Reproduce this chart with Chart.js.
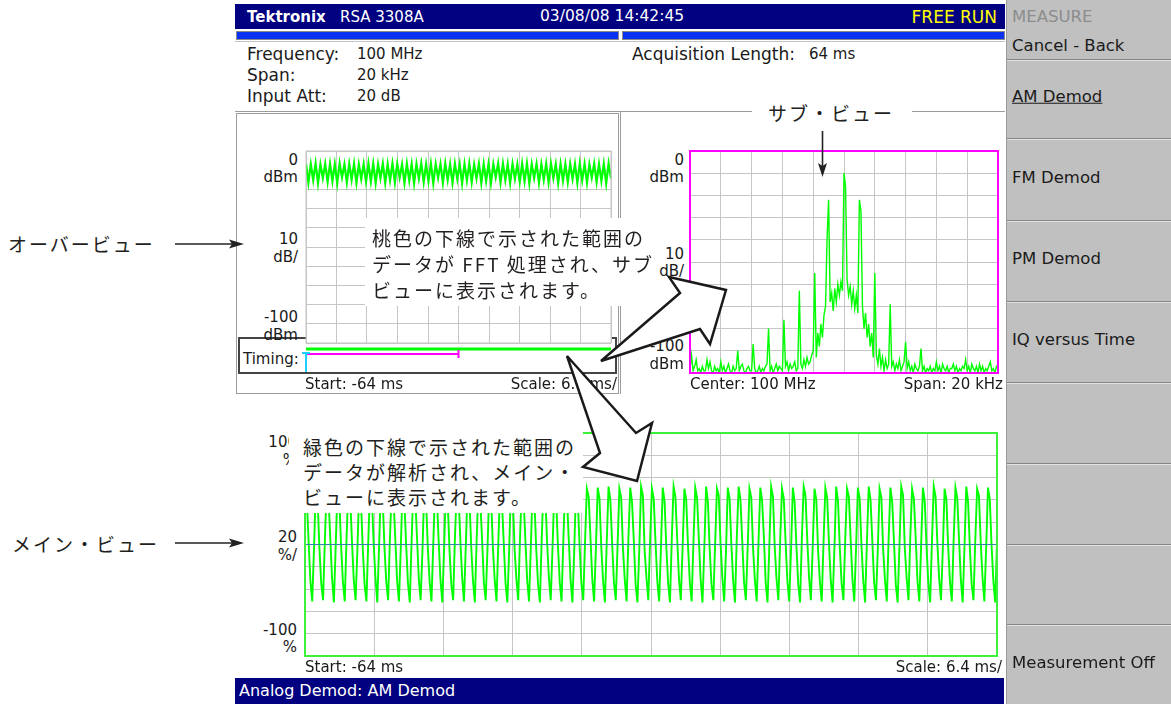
<!DOCTYPE html>
<html lang="ja">
<head>
<meta charset="utf-8">
<title>RSA 3308A - AM Demod</title>
<script src="https://cdn.jsdelivr.net/npm/chart.js@4.4.1/dist/chart.umd.min.js"></script>
<style>
  html, body { margin: 0; padding: 0; }
  body {
    position: relative; width: 1171px; height: 704px; overflow: hidden; background: #fff;
    font-family: "DejaVu Sans", Verdana, sans-serif; font-size: 15px; color: #1a1a1a;
  }
  .t { position: absolute; white-space: nowrap; line-height: 1; z-index: 3; }
  .jp { font-family: "Noto Sans CJK JP", sans-serif; font-size: 19px; letter-spacing: 2px; color: #231f20; }
  .rule { position: absolute; z-index: 1; box-sizing: border-box; }
  .box { position: absolute; background: #fff; z-index: 6; }
  .box .jp { position: absolute; white-space: nowrap; }
  canvas { position: absolute; z-index: 2; }
  #arrows { position: absolute; left: 0; top: 0; z-index: 8; }
</style>
</head>
<body>

<!-- title bar + progress bars -->
<div class="rule" style="left:235px;top:4px;width:770px;height:25px;background:#000080"></div>
<div class="rule" style="left:236px;top:31px;width:383px;height:9px;background:#0a32f0;border:1px solid #8a8a8a"></div>
<div class="rule" style="left:622px;top:31px;width:383px;height:9px;background:#0a32f0;border:1px solid #8a8a8a"></div>
<div class="rule" style="left:235px;top:41px;width:770px;height:1px;background:#c4c4c4"></div>

<!-- view frames -->
<div class="rule" style="left:235px;top:111px;width:517px;height:1px;background:#9c9c9c"></div>
<div class="rule" style="left:912px;top:111px;width:93px;height:1px;background:#9c9c9c"></div>
<div class="rule" style="left:236px;top:113px;width:383px;height:281px;border:1px solid #9c9c9c"></div>
<div class="rule" style="left:620px;top:111px;width:1px;height:283px;background:#9c9c9c"></div>
<div class="rule" style="left:238px;top:337px;width:379px;height:37px;border:2px solid #444"></div>

<!-- status bar -->
<div class="rule" style="left:235px;top:678px;width:769px;height:26px;background:#000080"></div>

<!-- side menu -->
<div class="rule" style="left:1006px;top:0;width:165px;height:704px;background:#c0c0c0;border-left:1px solid #9a9a9a"></div>
<div id="menuLines"></div>

<canvas id="overview" width="317" height="231" style="left:300px;top:146px"></canvas>
<canvas id="subview" width="316" height="230" style="left:686px;top:147px"></canvas>
<canvas id="mainview" width="700" height="231" style="left:301px;top:429px"></canvas>

<!-- callout boxes -->
<div class="box" style="left:365px;top:218px;width:285px;height:88px">
  <div class="jp" style="left:7px;top:7px;line-height:26px">桃色の下線で示された範囲の<br>データが FFT 処理され、サブ<br>ビューに表示されます。</div>
</div>
<div class="box" style="left:289px;top:429px;width:294px;height:84px">
  <div class="jp" style="left:14px;top:5px;line-height:25px">緑色の下線で示された範囲の<br>データが解析され、メイン・<br>ビューに表示されます。</div>
</div>

<svg id="arrows" width="1171" height="704">
  <g fill="#fff" stroke="#1a1a1a" stroke-width="2.5" stroke-linejoin="miter">
    <polygon points="601,361 680,293 669,277 726,290 710,344 700,329"/>
    <polygon points="567,356 600,453 583,467 637,481 652,423 636,433"/>
  </g>
  <g stroke="#222" stroke-width="1.6" fill="#222">
    <line x1="175" y1="244" x2="233" y2="244"/>
    <polygon points="244,244 229,239.5 232,244 229,248.5" stroke="none"/>
    <line x1="175" y1="543" x2="233" y2="543"/>
    <polygon points="244,543 229,538.5 232,543 229,547.5" stroke="none"/>
    <line x1="822.5" y1="131" x2="822.5" y2="167"/>
    <polygon points="822.5,177 818,163 822.5,166 827,163" stroke="none"/>
  </g>
</svg>

<script>
// Overview: AM envelope power in dBm, one peak and one trough per modulation cycle (64 cycles)
const overviewPeaks = [
  -6.6, -6.9, -6.5, -7.0, -6.7, -6.6, -6.8, -6.5,
  -6.9, -6.7, -6.6, -7.0, -6.8, -6.5, -6.7, -6.9,
  -6.6, -6.8, -6.5, -6.7, -7.0, -6.6, -6.8, -6.7,
  -6.5, -6.9, -6.6, -6.8, -6.7, -6.5, -6.9, -6.6,
  -6.8, -6.7, -6.5, -7.0, -6.6, -6.8, -6.7, -6.9,
  -6.5, -6.6, -6.8, -6.7, -7.0, -6.6, -6.5, -6.8,
  -6.7, -6.9, -6.6, -6.5, -6.8, -6.7, -6.9, -6.6,
  -6.8, -6.5, -6.7, -7.0, -6.6, -6.8, -6.7, -6.5,
];
const overviewTroughs = [
  -16.5, -15.2, -16.8, -14.1, -16.2, -15.7, -16.9, -13.8,
  -16.4, -15.0, -16.7, -14.6, -16.1, -15.9, -16.8, -14.2,
  -16.6, -15.3, -16.3, -13.9, -16.7, -15.5, -16.9, -14.4,
  -16.2, -15.8, -16.8, -14.0, -16.5, -15.1, -16.6, -14.7,
  -16.9, -15.4, -16.3, -14.3, -16.6, -15.6, -16.8, -13.7,
  -16.4, -15.2, -16.7, -14.5, -16.1, -15.8, -16.9, -14.1,
  -16.6, -15.0, -16.4, -14.2, -16.8, -15.5, -16.3, -14.6,
  -16.7, -15.3, -16.5, -13.9, -16.2, -15.7, -16.9, -14.4,
];

// Sub view: FFT of the magenta range, dBm, -10 .. +10 kHz in 0.1 kHz bins
const spectrumDbm = [
  -98, -92, -99, -97, -94, -99, -98, -100, -97, -99,
  -99, -94, -98, -95, -99, -100, -97, -99, -98, -100,
  -95, -99, -97, -100, -98, -96, -99, -100, -97, -99,
  -98, -90, -99, -97, -96, -99, -100, -98, -97, -99,
  -99, -87, -98, -100, -99, -97, -100, -98, -99, -97,
  -96, -80, -99, -97, -100, -98, -96, -99, -97, -98,
  -99, -76, -97, -95, -99, -96, -98, -97, -95, -99,
  -98, -63, -96, -98, -94, -97, -93, -96, -95, -92,
  -90, -55, -93, -82, -88, -78, -84, -74, -70, -40,
  -22, -68, -64, -72, -62, -68, -60, -65, -59, -63,
  -10, -16, -58, -65, -61, -69, -63, -71, -65, -73,
  -22, -27, -70, -80, -73, -84, -78, -88, -82, -93,
  -55, -92, -96, -89, -97, -93, -99, -94, -98, -96,
  -69, -97, -95, -99, -96, -98, -94, -99, -97, -95,
  -86, -98, -95, -99, -97, -100, -96, -98, -99, -97,
  -89, -99, -97, -100, -98, -99, -97, -100, -98, -99,
  -95, -99, -97, -100, -96, -98, -99, -97, -100, -98,
  -98, -96, -99, -97, -100, -98, -99, -97, -98, -94,
  -99, -97, -100, -96, -98, -99, -97, -100, -96, -99,
  -97, -100, -98, -99, -97, -95, -99, -98, -100, -97,
  -98,
];
const spanKhz = [-10, 10];

// Main view: AM depth in %, 6 samples per modulation cycle, 64 cycles
const amPercent = [
  51,41,2,-33,-51,-3, 52,39,-4,-35,-50,4, 50,43,5,-31,-52,-1, 51,40,-2,-34,-51,6,
  52,42,3,-32,-50,-5, 50,38,-5,-36,-51,2, 51,44,1,-30,-52,-2, 52,40,-3,-34,-50,5,
  50,41,4,-33,-51,-4, 51,39,-1,-35,-52,3, 52,43,6,-31,-50,-6, 50,40,-4,-34,-51,1,
  51,42,2,-32,-52,-3, 52,38,-6,-36,-50,7, 50,44,3,-30,-51,-1, 51,41,-2,-33,-52,4,
  52,40,5,-34,-50,-4, 50,42,-3,-32,-51,2, 51,39,1,-35,-52,-5, 52,43,-4,-31,-50,6,
  50,41,3,-33,-51,-2, 51,38,-5,-36,-52,4, 52,44,2,-30,-50,-3, 50,40,-1,-34,-51,5,
  51,42,4,-32,-52,-6, 52,39,-2,-35,-50,3, 50,43,6,-31,-51,-4, 51,41,-3,-33,-52,2,
  52,40,1,-34,-50,-1, 50,42,-4,-32,-51,6, 51,38,3,-36,-52,-5, 52,44,-6,-30,-50,4,
  50,41,2,-33,-51,-3, 51,39,-3,-35,-52,5, 52,43,5,-31,-50,-2, 50,40,-2,-34,-51,3,
  51,42,4,-32,-52,-4, 52,38,-5,-36,-50,1, 50,44,1,-30,-51,-6, 51,41,-1,-33,-52,7,
  52,40,3,-34,-50,-3, 50,42,-4,-32,-51,2, 51,39,6,-35,-52,-1, 52,43,-3,-31,-50,4,
  50,41,2,-33,-51,-5, 51,38,-2,-36,-52,6, 52,44,4,-30,-50,-2, 50,40,-6,-34,-51,3,
  51,42,1,-32,-52,-4, 52,39,-3,-35,-50,5, 50,43,5,-31,-51,-3, 51,41,-1,-33,-52,2,
  52,40,3,-34,-50,-6, 50,42,-5,-32,-51,4, 51,38,2,-36,-52,-2, 52,44,-4,-30,-50,6,
  50,41,6,-33,-51,-1, 51,39,-2,-35,-52,3, 52,43,1,-31,-50,-5, 50,40,-3,-34,-51,4,
  51,42,4,-32,-52,-2, 52,38,-4,-36,-50,5, 50,44,2,-30,-51,-3, 51,41,-1,-33,-52,3,
];

const timeMs = [-64, 0];        // acquisition length 64 ms, 6.4 ms/div
const dbmRange = [-100, 0];      // 10 dB/div
const pctRange = [-100, 100];    // 20 %/div
const timingMain = [-64, 0];     // green: analysed range
const timingSub = [-64, -32];    // magenta: FFT range
const triggerAt = -64;

const GREEN = "#00ff00";
const GRID = "#c6c6c6";
const $ = (id) => document.getElementById(id);

// --- text helper ---
function put(text, x, y, o = {}) {
  const el = document.createElement("div");
  el.className = "t" + (o.jp ? " jp" : "");
  el.textContent = text;
  el.style.left = x + "px";
  el.style.top = y + "px";
  const tx = o.align === "right" ? "-100%" : "0";
  el.style.transform = `translate(${tx}, -50%)`;
  if (o.size) el.style.fontSize = o.size + "px";
  if (o.color) el.style.color = o.color;
  if (o.weight) el.style.fontWeight = o.weight;
  if (o.underline) el.style.textDecoration = "underline";
  document.body.appendChild(el);
  return el;
}

// header
put("Tektronix", 247, 17, { size: 15, weight: "bold", color: "#fff" });
put("RSA 3308A", 340, 17, { size: 15, color: "#fff" });
put("03/08/08 14:42:45", 540, 17, { size: 15.5, color: "#fff" });
put("FREE RUN", 997, 17, { size: 17, color: "#ffff00", align: "right" });

put("Frequency:", 247, 54, { size: 17 });
put("100 MHz", 357, 54);
put("Span:", 247, 75, { size: 17 });
put("20 kHz", 357, 75);
put("Input Att:", 247, 96, { size: 17 });
put("20 dB", 357, 96);
put("Acquisition Length:", 632, 54, { size: 17 });
put("64 ms", 809, 54);

// overview labels
put("0", 298, 160, { align: "right" });
put("dBm", 298, 177, { align: "right" });
put("10", 298, 239, { align: "right" });
put("dB/", 298, 257, { align: "right" });
put("-100", 298, 317, { align: "right" });
put("dBm", 298, 335, { align: "right" });
put("Timing:", 243, 359);
put("Start: -64 ms", 305, 384);
put("Scale: 6.4 ms/", 617, 384, { align: "right" });

// sub view labels
put("0", 684, 160, { align: "right" });
put("dBm", 684, 177, { align: "right" });
put("10", 684, 254, { align: "right" });
put("dB/", 684, 271, { align: "right" });
put("-100", 684, 346, { align: "right" });
put("dBm", 684, 364, { align: "right" });
put("Center: 100 MHz", 690, 384);
put("Span: 20 kHz", 1003, 384, { align: "right" });

// main view labels
put("100", 297, 442, { align: "right" });
put("%", 297, 460, { align: "right" });
put("20", 297, 537, { align: "right" });
put("%/", 297, 555, { align: "right" });
put("-100", 297, 630, { align: "right" });
put("%", 297, 647, { align: "right" });
put("Start: -64 ms", 305, 667);
put("Scale: 6.4 ms/", 1002, 667, { align: "right" });

put("Analog Demod: AM Demod", 239, 691, { size: 16, color: "#fff" });

// annotations
put("オーバービュー", 8, 243, { jp: true });
put("メイン・ビュー", 12, 543, { jp: true });
put("サブ・ビュー", 768, 112, { jp: true });

// side menu
put("MEASURE", 1012, 17, { size: 16.5, color: "#8c8c8c" });
put("Cancel - Back", 1012, 46, { size: 16.5 });
put("AM Demod", 1012, 97, { size: 16.5, underline: true });
put("FM Demod", 1012, 178, { size: 16.5 });
put("PM Demod", 1012, 259, { size: 16.5 });
put("IQ versus Time", 1012, 340, { size: 16.5 });
put("Measurement Off", 1012, 663, { size: 16.5 });
[59, 138, 220, 301, 382, 463, 544, 624].forEach((y) => {
  const d = document.createElement("div");
  d.className = "rule";
  d.style.cssText = `left:1007px;top:${y}px;width:164px;height:2px;background:#858585;border-bottom:1px solid #e2e2e2;z-index:2`;
  $("menuLines").appendChild(d);
});

// --- chart helpers ---
function tenDivs(range) {
  return (scale) => {
    const out = [];
    for (let i = 0; i <= 10; i++) out.push({ value: range[0] + (range[1] - range[0]) * i / 10 });
    scale.ticks = out;
  };
}

function axis(range) {
  return {
    type: "linear",
    min: range[0],
    max: range[1],
    ticks: { display: false },
    grid: { color: GRID, lineWidth: 1, drawTicks: false },
    border: { display: false },
    afterBuildTicks: tenDivs(range),
  };
}

// white plot background + coloured frame
const framePlugin = {
  id: "frame",
  beforeDraw(chart) {
    const { ctx, chartArea: a } = chart;
    ctx.save();
    ctx.fillStyle = "#fff";
    ctx.fillRect(a.left, a.top, a.right - a.left, a.bottom - a.top);
    ctx.restore();
  },
  afterDraw(chart, args, o) {
    const { ctx, chartArea: a } = chart;
    ctx.save();
    ctx.strokeStyle = o.color;
    ctx.lineWidth = o.width;
    ctx.strokeRect(a.left, a.top, a.right - a.left, a.bottom - a.top);
    ctx.restore();
  },
};

function seg(ctx, x0, y0, x1, y1) {
  ctx.beginPath();
  ctx.moveTo(x0, y0);
  ctx.lineTo(x1, y1);
  ctx.stroke();
}

// Timing strip under the overview
const timingPlugin = {
  id: "timing",
  afterDraw(chart) {
    const { ctx, chartArea: a, scales: { x } } = chart;
    const y0 = a.bottom;
    ctx.save();
    ctx.strokeStyle = GREEN;
    ctx.lineWidth = 3;
    seg(ctx, x.getPixelForValue(timingMain[0]), y0 + 6, x.getPixelForValue(timingMain[1]), y0 + 6);
    ctx.strokeStyle = "#ff00ff";
    ctx.lineWidth = 2;
    const m0 = x.getPixelForValue(timingSub[0]);
    const m1 = x.getPixelForValue(timingSub[1]);
    seg(ctx, m0, y0 + 11, m1, y0 + 11);
    seg(ctx, m1, y0 + 7, m1, y0 + 15);
    ctx.strokeStyle = "#1ccfff";
    const t = x.getPixelForValue(triggerAt);
    seg(ctx, t - 4, y0 + 10, t + 4, y0 + 10);
    seg(ctx, t, y0 + 10, t, y0 + 29);
    ctx.restore();
  },
};

function scope(id, datasets, xr, yr, padding, frame, extra = []) {
  return new Chart($(id), {
    type: "line",
    data: { datasets },
    options: {
      responsive: false,
      animation: false,
      devicePixelRatio: 1,
      events: [],
      layout: { padding, autoPadding: false },
      elements: { point: { radius: 0 }, line: { tension: 0, borderWidth: 1.5 } },
      plugins: { legend: { display: false }, tooltip: { enabled: false }, frame },
      scales: { x: axis(xr), y: axis(yr) },
    },
    plugins: [framePlugin, ...extra],
  });
}

// overview trace: peak / trough per cycle across the acquisition
const overviewPts = [];
const nOv = overviewPeaks.length * 2;
overviewPeaks.forEach((p, i) => {
  overviewPts.push({ x: timeMs[0] + (2 * i) * (timeMs[1] - timeMs[0]) / (nOv - 1), y: p });
  overviewPts.push({ x: timeMs[0] + (2 * i + 1) * (timeMs[1] - timeMs[0]) / (nOv - 1), y: overviewTroughs[i] });
});

scope("overview",
  [{ data: overviewPts, borderColor: GREEN, borderWidth: 2.2 }],
  timeMs, dbmRange,
  { left: 6, top: 5, right: 6, bottom: 34 },
  { color: GRID, width: 1 },
  [timingPlugin]);

const spectrumPts = spectrumDbm.map((v, i) => ({
  x: spanKhz[0] + i * (spanKhz[1] - spanKhz[0]) / (spectrumDbm.length - 1),
  y: v,
}));

scope("subview",
  [{ data: spectrumPts, borderColor: GREEN, borderWidth: 1.4 }],
  spanKhz, dbmRange,
  { left: 4, top: 4, right: 4, bottom: 4 },
  { color: "#ff00ff", width: 2 });

const mainPts = amPercent.map((v, i) => ({
  x: timeMs[0] + i * (timeMs[1] - timeMs[0]) / (amPercent.length - 1),
  y: v,
}));

scope("mainview",
  [
    { data: [{ x: timeMs[0], y: 0 }, { x: timeMs[1], y: 0 }], borderColor: "#2e86a8", borderWidth: 1 },
    { data: mainPts, borderColor: GREEN, borderWidth: 1.9 },
  ],
  timeMs, pctRange,
  { left: 4, top: 4, right: 4, bottom: 4 },
  { color: "#3cf03c", width: 2 });
</script>
</body>
</html>
